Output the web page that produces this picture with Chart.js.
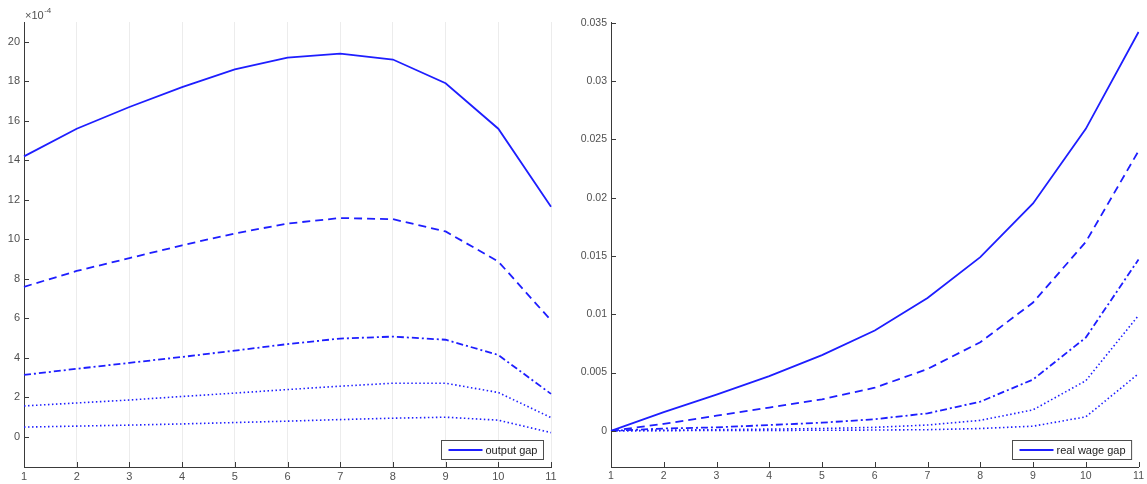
<!DOCTYPE html>
<html>
<head>
<meta charset="utf-8">
<script src="https://cdn.jsdelivr.net/npm/chart.js@4/dist/chart.umd.min.js"></script>
<style>
  html, body { margin: 0; padding: 0; background: #fff; }
  body { width: 1147px; height: 484px; position: relative; overflow: hidden; }
  .pane { position: absolute; top: 0; height: 484px; }
  #left { left: 0; width: 565px; }
  #right { left: 575px; width: 572px; }
</style>
</head>
<body>
<div class="pane" id="left"><canvas id="cLeft" width="565" height="484"></canvas></div>
<div class="pane" id="right"><canvas id="cRight" width="572" height="484"></canvas></div>
<script>
// Horizon (periods)
const periods = ['1','2','3','4','5','6','7','8','9','10','11'];

// Output gap response, in units of 1e-4, one array per parameter setting
const outputGap1 = [14.2, 15.6, 16.7, 17.7, 18.6, 19.2, 19.4, 19.1, 17.9, 15.6, 11.65];
const outputGap2 = [7.6, 8.4, 9.05, 9.7, 10.3, 10.8, 11.08, 11.02, 10.4, 8.88, 5.9];
const outputGap3 = [3.14, 3.45, 3.75, 4.05, 4.37, 4.7, 4.98, 5.08, 4.92, 4.15, 2.18];
const outputGap4 = [1.57, 1.72, 1.87, 2.05, 2.22, 2.4, 2.57, 2.72, 2.72, 2.25, 0.98];
const outputGap5 = [0.5, 0.55, 0.6, 0.66, 0.73, 0.8, 0.88, 0.95, 1.0, 0.85, 0.22];

// Real wage gap response, one array per parameter setting
const wageGap1 = [0, 0.0016, 0.0031, 0.0047, 0.0065, 0.0086, 0.0114, 0.0149, 0.0195, 0.0259, 0.0342];
const wageGap2 = [0, 0.0006, 0.0013, 0.002, 0.0027, 0.0037, 0.0053, 0.0076, 0.011, 0.0162, 0.024];
const wageGap3 = [0, 0.0002, 0.0003, 0.0005, 0.0007, 0.001, 0.0015, 0.0025, 0.0044, 0.008, 0.0147];
const wageGap4 = [0, 0.00005, 0.0001, 0.00015, 0.0002, 0.0003, 0.0005, 0.0009, 0.0018, 0.0043, 0.0099];
const wageGap5 = [0, 0.00002, 0.00003, 0.00004, 0.00005, 0.00007, 0.0001, 0.0002, 0.0004, 0.0012, 0.0049];

// Tick values and labels
const leftYTicks = [0, 2, 4, 6, 8, 10, 12, 14, 16, 18, 20];
const rightYTicks = [0, 0.005, 0.01, 0.015, 0.02, 0.025, 0.03, 0.035];
const rightYLabels = ['0', '0.005', '0.01', '0.015', '0.02', '0.025', '0.03', '0.035'];

const legendLeft = 'output gap';
const legendRight = 'real wage gap';

const BLUE = 'rgb(30,30,255)';
const AXIS = '#3a3a3a';
const TICKTXT = '#505050';
const FAMILY = '"Liberation Sans", Arial, sans-serif';

const lineStyles = [
  { dash: [], width: 1.8 },
  { dash: [8, 5], width: 1.8 },
  { dash: [7, 3, 2, 3], width: 1.8 },
  { dash: [1.5, 2.5], width: 1.6 },
  { dash: [1.5, 2.5], width: 1.6 }
];

function makeDatasets(series) {
  return series.map((d, i) => ({
    data: d,
    borderColor: BLUE,
    borderWidth: lineStyles[i].width,
    borderDash: lineStyles[i].dash,
    borderCapStyle: 'butt',
    pointRadius: 0,
    tension: 0,
    fill: false
  }));
}

// Short inward tick marks on the left and bottom axes
const innerTicks = {
  id: 'innerTicks',
  afterDatasetsDraw(chart) {
    const { ctx, chartArea: a, scales: { x, y } } = chart;
    ctx.save();
    ctx.strokeStyle = AXIS;
    ctx.lineWidth = 1;
    ctx.beginPath();
    x.ticks.forEach((t, i) => {
      const px = Math.round(x.getPixelForTick(i)) + 0.5;
      ctx.moveTo(px, a.bottom);
      ctx.lineTo(px, a.bottom - 5);
    });
    y.ticks.forEach(t => {
      const py = Math.round(y.getPixelForValue(t.value)) + 0.5;
      ctx.moveTo(a.left, py);
      ctx.lineTo(a.left + 5, py);
    });
    ctx.stroke();
    ctx.restore();
  }
};

// Boxed legend in the lower-right corner showing the first series
const cornerLegend = {
  id: 'cornerLegend',
  afterDatasetsDraw(chart, args, opts) {
    const { ctx, chartArea: a } = chart;
    ctx.save();
    ctx.font = '11px ' + FAMILY;
    const tw = ctx.measureText(opts.text).width;
    const lineLen = 34;
    const w = 7 + lineLen + 3 + tw + 6;
    const h = 19;
    const x0 = Math.round(a.right - opts.gap - w) + 0.5;
    const y0 = Math.round(a.bottom - 8 - h) + 0.5;
    ctx.fillStyle = '#fff';
    ctx.fillRect(x0, y0, w, h);
    ctx.strokeStyle = '#4d4d4d';
    ctx.lineWidth = 1;
    ctx.strokeRect(x0, y0, w, h);
    ctx.strokeStyle = BLUE;
    ctx.lineWidth = 1.8;
    ctx.beginPath();
    ctx.moveTo(x0 + 7, y0 + h / 2);
    ctx.lineTo(x0 + 7 + lineLen, y0 + h / 2);
    ctx.stroke();
    ctx.fillStyle = '#222';
    ctx.textBaseline = 'middle';
    ctx.fillText(opts.text, x0 + 7 + lineLen + 3, y0 + h / 2 + 0.5);
    ctx.restore();
  }
};

// Scale factor note above the left axis
const exponentNote = {
  id: 'exponentNote',
  afterDraw(chart, args, opts) {
    if (!opts.show) return;
    const { ctx, chartArea: a } = chart;
    ctx.save();
    ctx.fillStyle = TICKTXT;
    ctx.textBaseline = 'alphabetic';
    ctx.font = '11px ' + FAMILY;
    ctx.fillText('\u00d710', a.left + 1, a.top - 3);
    const w = ctx.measureText('\u00d710').width;
    ctx.font = '8px ' + FAMILY;
    ctx.fillText('-4', a.left + 1 + w + 0.5, a.top - 9);
    ctx.restore();
  }
};

function buildOptions(cfg) {
  const font = { family: FAMILY, size: cfg.fontSize };
  return {
    responsive: false,
    animation: false,
    layout: { padding: { top: 22, right: cfg.padRight, left: 0, bottom: 0 } },
    plugins: {
      legend: { display: false },
      tooltip: { enabled: false },
      cornerLegend: { text: cfg.legendText, gap: cfg.legendGap },
      exponentNote: { show: cfg.exponent }
    },
    scales: {
      x: {
        type: 'category',
        offset: false,
        grid: { display: cfg.xGrid, color: '#ececec', lineWidth: 1, drawTicks: false },
        border: { display: true, color: AXIS, width: 1 },
        ticks: { color: TICKTXT, font: font, padding: 3, maxRotation: 0, autoSkip: false },
        afterFit(s) { s.height = 17; }
      },
      y: {
        type: 'linear',
        min: cfg.yMin,
        max: cfg.yMax,
        grid: { display: false, drawTicks: false },
        border: { display: true, color: AXIS, width: 1 },
        ticks: {
          color: TICKTXT, font: font, padding: 4,
          callback: cfg.yLabel
        },
        afterBuildTicks(s) { s.ticks = cfg.yTicks.map(v => ({ value: v })); },
        afterFit(s) { s.width = cfg.yWidth; }
      }
    }
  };
}

new Chart(document.getElementById('cLeft'), {
  type: 'line',
  data: {
    labels: periods,
    datasets: makeDatasets([outputGap1, outputGap2, outputGap3, outputGap4, outputGap5])
  },
  options: buildOptions({
    padRight: 14, yMin: -1.52, yMax: 21.0, yTicks: leftYTicks, yWidth: 24, fontSize: 11,
    yLabel: v => String(v), legendText: legendLeft, legendGap: 8, exponent: true, xGrid: true
  }),
  plugins: [innerTicks, cornerLegend, exponentNote]
});

new Chart(document.getElementById('cRight'), {
  type: 'line',
  data: {
    labels: periods,
    datasets: makeDatasets([wageGap1, wageGap2, wageGap3, wageGap4, wageGap5])
  },
  options: buildOptions({
    padRight: 8, yMin: -0.0031, yMax: 0.03506, yTicks: rightYTicks, yWidth: 36, fontSize: 10.5,
    yLabel: v => rightYLabels[rightYTicks.findIndex(t => Math.abs(t - v) < 1e-9)] ?? '',
    legendText: legendRight, legendGap: 7, exponent: false, xGrid: false
  }),
  plugins: [innerTicks, cornerLegend, exponentNote]
});
</script>
</body>
</html>
